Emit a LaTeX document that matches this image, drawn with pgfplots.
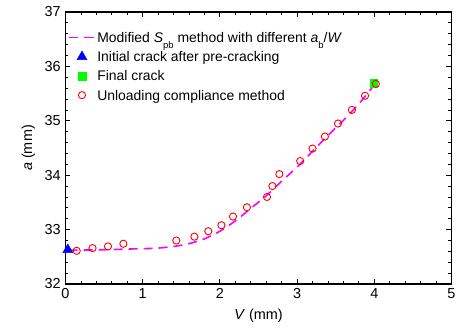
\documentclass[border=0pt]{standalone}
\usepackage{fontspec}
\setmainfont{Liberation Sans}
\usepackage{pgfplots}
\pgfplotsset{compat=1.18}
\definecolor{mag}{RGB}{255,0,255}
\definecolor{grn}{RGB}{0,255,0}
\definecolor{blu}{RGB}{0,0,255}
\definecolor{rd}{RGB}{255,0,0}
\newcommand{\sub}[1]{\raisebox{-0.85ex}{\fontsize{9.5}{9.5}\selectfont #1}}
\begin{document}
\fontsize{14}{17}\selectfont
\begin{tikzpicture}
\begin{axis}[
  scale only axis, width=386bp, height=272bp,
  xmin=0, xmax=5, ymin=32, ymax=37,
  xtick={0,1,2,3,4,5}, ytick={32,33,34,35,36,37},
  minor x tick num=4, minor y tick num=4,
  tick align=inside,
  major tick length=5bp, minor tick length=3bp,
  axis line style={line width=1.1bp},
  every tick/.style={black, line width=0.8bp},
  tick label style={font=\fontsize{14.5}{17}\selectfont},
  /pgf/number format/assume math mode=true,
  xlabel={\textit{V} (mm)}, ylabel={\textit{a} (mm)},
  label style={font=\fontsize{14.5}{17}\selectfont},
  legend style={at={(0.0,0.94)}, anchor=north west, draw=none, fill=none,
    font=\fontsize{14}{17}\selectfont, row sep=3bp, cells={anchor=base west},
    /tikz/every even column/.append style={column sep=12bp}},
  legend image code/.code={%
    \draw[mark repeat=2,mark phase=2,#1] plot coordinates {(0bp,5bp) (12.5bp,5bp) (25bp,5bp)};},
]
\addplot[mag, line width=1.6bp, dash pattern=on 9bp off 6bp, smooth, tension=0.4] coordinates {
(0.04,32.62) (0.5,32.63) (1.0,32.65) (1.2,32.66) (1.4,32.69) (1.6,32.74)
(1.8,32.83) (2.0,32.97) (2.2,33.16) (2.4,33.39) (2.6,33.62) (2.8,33.89)
(3.0,34.15) (3.2,34.44) (3.4,34.73) (3.6,35.01) (3.8,35.31) (4.0,35.66)
};
\addlegendentry{Modified \textit{S}\sub{pb} method with different \textit{a}\sub{b}/\textit{W}}
\addplot[only marks, mark=triangle*, mark size=5.8bp, color=blu, fill=blu] coordinates {(0.03,32.63)};
\addlegendentry{Initial crack after pre-cracking}
\addplot[only marks, mark=square*, mark size=3.8bp, color=grn, fill=grn] coordinates {(3.99,35.69)};
\addlegendentry{Final crack}
\addplot[only marks, mark=o, mark size=3.6bp, color=rd, line width=0.9bp] coordinates {
(0.145,32.61) (0.35,32.66) (0.55,32.69) (0.75,32.74) (1.435,32.80) (1.67,32.87)
(1.85,32.97) (2.02,33.08) (2.17,33.24) (2.35,33.41) (2.61,33.60) (2.68,33.80)
(2.77,34.02) (3.04,34.26) (3.20,34.49) (3.36,34.71) (3.53,34.95) (3.71,35.20)
(3.88,35.46) (4.02,35.68)
};
\addlegendentry{Unloading compliance method}
\end{axis}
\pgfresetboundingbox
\path (current axis.south west) ++(-65.5bp,-47bp) rectangle (current axis.north east) ++(5.5bp,12bp);
\end{tikzpicture}
\end{document}
